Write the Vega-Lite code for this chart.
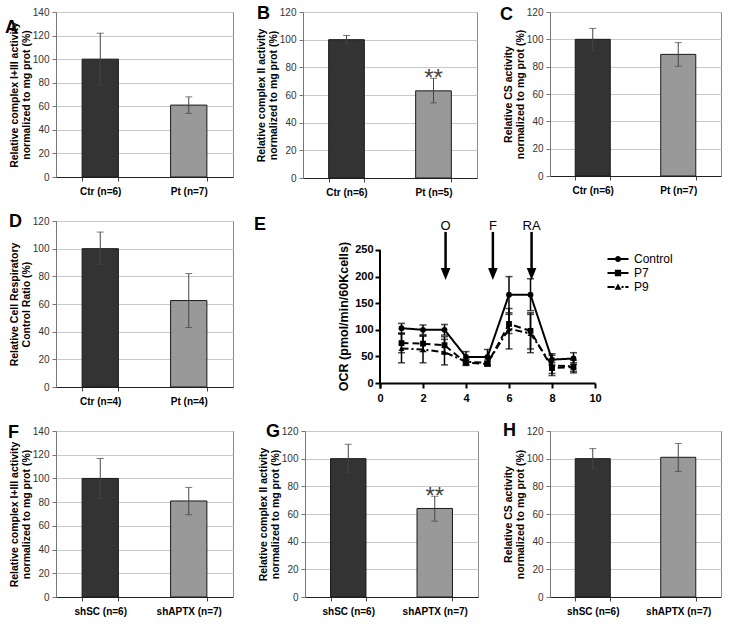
{
  "$schema": "https://vega.github.io/schema/vega-lite/v6.json",
  "background": "white",
  "padding": {"left": 4, "top": 4, "right": 5, "bottom": 3},
  "datasets": {
    "bars": [
      {"panel": "A", "group": "Ctr (n=6)", "cond": "control", "value": 100, "lo": 78, "hi": 122},
      {"panel": "A", "group": "Pt (n=7)", "cond": "case", "value": 61, "lo": 54, "hi": 68},
      {"panel": "B", "group": "Ctr (n=6)", "cond": "control", "value": 100, "lo": 96.8, "hi": 103},
      {"panel": "B", "group": "Pt (n=5)", "cond": "case", "value": 63, "lo": 54.3, "hi": 72, "sig": "**"},
      {"panel": "C", "group": "Ctr (n=6)", "cond": "control", "value": 100, "lo": 91.8, "hi": 108},
      {"panel": "C", "group": "Pt (n=7)", "cond": "case", "value": 89, "lo": 80.3, "hi": 97.6},
      {"panel": "D", "group": "Ctr (n=4)", "cond": "control", "value": 100, "lo": 88.5, "hi": 112},
      {"panel": "D", "group": "Pt (n=4)", "cond": "case", "value": 62.5, "lo": 43, "hi": 82},
      {"panel": "F", "group": "shSC (n=6)", "cond": "control", "value": 100, "lo": 83.2, "hi": 116.8},
      {"panel": "F", "group": "shAPTX (n=7)", "cond": "case", "value": 81, "lo": 69.4, "hi": 92.4},
      {"panel": "G", "group": "shSC (n=6)", "cond": "control", "value": 100, "lo": 89.6, "hi": 110.4},
      {"panel": "G", "group": "shAPTX (n=7)", "cond": "case", "value": 64, "lo": 54.8, "hi": 72.8, "sig": "**"},
      {"panel": "H", "group": "shSC (n=6)", "cond": "control", "value": 100, "lo": 92.5, "hi": 107.3},
      {"panel": "H", "group": "shAPTX (n=7)", "cond": "case", "value": 101, "lo": 90.8, "hi": 111}
    ],
    "ocr": [
      {"series": "Control", "t": 1, "v": 103, "lo": 94, "hi": 112},
      {"series": "Control", "t": 2, "v": 100, "lo": 91, "hi": 109},
      {"series": "Control", "t": 3, "v": 100, "lo": 90, "hi": 110},
      {"series": "Control", "t": 4, "v": 49, "lo": 39, "hi": 59},
      {"series": "Control", "t": 5, "v": 49, "lo": 35, "hi": 63},
      {"series": "Control", "t": 6, "v": 166, "lo": 132, "hi": 200},
      {"series": "Control", "t": 7, "v": 166, "lo": 136, "hi": 196},
      {"series": "Control", "t": 8, "v": 44, "lo": 33, "hi": 55},
      {"series": "Control", "t": 9, "v": 46, "lo": 35, "hi": 57},
      {"series": "P7", "t": 1, "v": 75, "lo": 57, "hi": 93},
      {"series": "P7", "t": 2, "v": 74, "lo": 59, "hi": 89},
      {"series": "P7", "t": 3, "v": 71, "lo": 55, "hi": 87},
      {"series": "P7", "t": 4, "v": 38, "lo": 33, "hi": 43},
      {"series": "P7", "t": 5, "v": 36, "lo": 32, "hi": 40},
      {"series": "P7", "t": 6, "v": 111, "lo": 93, "hi": 129},
      {"series": "P7", "t": 7, "v": 98, "lo": 64, "hi": 132},
      {"series": "P7", "t": 8, "v": 28, "lo": 18, "hi": 38},
      {"series": "P7", "t": 9, "v": 30, "lo": 22, "hi": 38},
      {"series": "P9", "t": 1, "v": 65, "lo": 38, "hi": 92},
      {"series": "P9", "t": 2, "v": 63, "lo": 38, "hi": 88},
      {"series": "P9", "t": 3, "v": 58, "lo": 34, "hi": 82},
      {"series": "P9", "t": 4, "v": 40, "lo": 35, "hi": 45},
      {"series": "P9", "t": 5, "v": 38, "lo": 33, "hi": 43},
      {"series": "P9", "t": 6, "v": 102, "lo": 64, "hi": 140},
      {"series": "P9", "t": 7, "v": 93, "lo": 57, "hi": 129},
      {"series": "P9", "t": 8, "v": 33, "lo": 14, "hi": 52},
      {"series": "P9", "t": 9, "v": 31, "lo": 19, "hi": 43}
    ],
    "injections": [
      {"label": "O", "t": 3.05},
      {"label": "F", "t": 5.25},
      {"label": "RA", "t": 7.05}
    ]
  },
  "spacing": 14,
  "vconcat": [
    {
      "spacing": 21,
      "hconcat": [
        {
          "data": {"name": "bars"},
          "transform": [{"filter": "datum.panel == 'A'"}],
          "width": 177, "height": 165,
          "title": {"text": "A", "anchor": "start", "frame": "group", "offset": 0, "dx": -51, "dy": 44, "baseline": "alphabetic", "fontSize": 18, "fontWeight": "bold", "color": "black"},
          "encoding": {"x": {"field": "group", "type": "nominal", "sort": null, "title": null, "scale": {"paddingInner": 0.59, "paddingOuter": 0.295}}},
          "layer": [
            {"mark": {"type": "bar", "stroke": "#1a1a1a", "strokeWidth": 1},
             "encoding": {
               "y": {"field": "value", "type": "quantitative", "scale": {"domain": [0, 140]}, "axis": {"values": [0, 20, 40, 60, 80, 100, 120, 140], "title": ["Relative complex I+III activity", "normalized to mg prot (%)"]}},
               "fill": {"field": "cond", "type": "nominal", "scale": {"domain": ["control", "case"], "range": ["#333333", "#999999"]}, "legend": null}}},
            {"mark": {"type": "rule", "color": "#444"}, "encoding": {"y": {"field": "lo", "type": "quantitative", "axis": {"values": [0, 20, 40, 60, 80, 100, 120, 140], "title": ["Relative complex I+III activity", "normalized to mg prot (%)"]}}, "y2": {"field": "hi"}}},
            {"mark": {"type": "tick", "color": "#444", "size": 7, "thickness": 1}, "encoding": {"y": {"field": "hi", "type": "quantitative", "axis": {"values": [0, 20, 40, 60, 80, 100, 120, 140], "title": ["Relative complex I+III activity", "normalized to mg prot (%)"]}}}},
            {"mark": {"type": "tick", "color": "#444", "size": 7, "thickness": 1}, "encoding": {"y": {"field": "lo", "type": "quantitative", "axis": {"values": [0, 20, 40, 60, 80, 100, 120, 140], "title": ["Relative complex I+III activity", "normalized to mg prot (%)"]}}}}
          ]
        },
        {
          "data": {"name": "bars"},
          "transform": [{"filter": "datum.panel == 'B'"}],
          "width": 174, "height": 166,
          "title": {"text": "B", "anchor": "start", "frame": "group", "offset": 0, "dx": -46, "dy": 30, "baseline": "alphabetic", "fontSize": 18, "fontWeight": "bold", "color": "black"},
          "encoding": {"x": {"field": "group", "type": "nominal", "sort": null, "title": null, "scale": {"paddingInner": 0.59, "paddingOuter": 0.295}}},
          "layer": [
            {"mark": {"type": "bar", "stroke": "#1a1a1a", "strokeWidth": 1},
             "encoding": {
               "y": {"field": "value", "type": "quantitative", "scale": {"domain": [0, 120]}, "axis": {"values": [0, 20, 40, 60, 80, 100, 120], "title": ["Relative complex II activity", "normalized to mg prot (%)"]}},
               "fill": {"field": "cond", "type": "nominal", "scale": {"domain": ["control", "case"], "range": ["#333333", "#999999"]}, "legend": null}}},
            {"mark": {"type": "rule", "color": "#444"}, "encoding": {"y": {"field": "lo", "type": "quantitative", "axis": {"values": [0, 20, 40, 60, 80, 100, 120], "title": ["Relative complex II activity", "normalized to mg prot (%)"]}}, "y2": {"field": "hi"}}},
            {"mark": {"type": "tick", "color": "#444", "size": 7, "thickness": 1}, "encoding": {"y": {"field": "hi", "type": "quantitative", "axis": {"values": [0, 20, 40, 60, 80, 100, 120], "title": ["Relative complex II activity", "normalized to mg prot (%)"]}}}},
            {"mark": {"type": "tick", "color": "#444", "size": 7, "thickness": 1}, "encoding": {"y": {"field": "lo", "type": "quantitative", "axis": {"values": [0, 20, 40, 60, 80, 100, 120], "title": ["Relative complex II activity", "normalized to mg prot (%)"]}}}},
            {"transform": [{"filter": "datum.sig"}], "mark": {"type": "text", "baseline": "alphabetic", "dy": 8, "fontSize": 24, "color": "#444"}, "encoding": {"y": {"field": "hi", "type": "quantitative", "axis": {"values": [0, 20, 40, 60, 80, 100, 120], "title": ["Relative complex II activity", "normalized to mg prot (%)"]}}, "text": {"field": "sig"}}}
          ]
        },
        {
          "data": {"name": "bars"},
          "transform": [{"filter": "datum.panel == 'C'"}],
          "width": 171, "height": 164,
          "title": {"text": "C", "anchor": "start", "frame": "group", "offset": 0, "dx": -50, "dy": 31, "baseline": "alphabetic", "fontSize": 18, "fontWeight": "bold", "color": "black"},
          "encoding": {"x": {"field": "group", "type": "nominal", "sort": null, "title": null, "scale": {"paddingInner": 0.59, "paddingOuter": 0.295}}},
          "layer": [
            {"mark": {"type": "bar", "stroke": "#1a1a1a", "strokeWidth": 1},
             "encoding": {
               "y": {"field": "value", "type": "quantitative", "scale": {"domain": [0, 120]}, "axis": {"values": [0, 20, 40, 60, 80, 100, 120], "title": ["Relative CS activity", "normalized to mg prot (%)"]}},
               "fill": {"field": "cond", "type": "nominal", "scale": {"domain": ["control", "case"], "range": ["#333333", "#999999"]}, "legend": null}}},
            {"mark": {"type": "rule", "color": "#444"}, "encoding": {"y": {"field": "lo", "type": "quantitative", "axis": {"values": [0, 20, 40, 60, 80, 100, 120], "title": ["Relative CS activity", "normalized to mg prot (%)"]}}, "y2": {"field": "hi"}}},
            {"mark": {"type": "tick", "color": "#444", "size": 7, "thickness": 1}, "encoding": {"y": {"field": "hi", "type": "quantitative", "axis": {"values": [0, 20, 40, 60, 80, 100, 120], "title": ["Relative CS activity", "normalized to mg prot (%)"]}}}},
            {"mark": {"type": "tick", "color": "#444", "size": 7, "thickness": 1}, "encoding": {"y": {"field": "lo", "type": "quantitative", "axis": {"values": [0, 20, 40, 60, 80, 100, 120], "title": ["Relative CS activity", "normalized to mg prot (%)"]}}}}
          ]
        }
      ]
    },
    {
      "spacing": 20,
      "hconcat": [
        {
          "data": {"name": "bars"},
          "transform": [{"filter": "datum.panel == 'D'"}],
          "width": 177, "height": 166,
          "title": {"text": "D", "anchor": "start", "frame": "group", "offset": 0, "dx": -47, "dy": 29, "baseline": "alphabetic", "fontSize": 18, "fontWeight": "bold", "color": "black"},
          "encoding": {"x": {"field": "group", "type": "nominal", "sort": null, "title": null, "scale": {"paddingInner": 0.59, "paddingOuter": 0.295}}},
          "layer": [
            {"mark": {"type": "bar", "stroke": "#1a1a1a", "strokeWidth": 1},
             "encoding": {
               "y": {"field": "value", "type": "quantitative", "scale": {"domain": [0, 120]}, "axis": {"values": [0, 20, 40, 60, 80, 100, 120], "title": ["Relative Cell Respiratory", "Control Ratio (%)"]}},
               "fill": {"field": "cond", "type": "nominal", "scale": {"domain": ["control", "case"], "range": ["#333333", "#999999"]}, "legend": null}}},
            {"mark": {"type": "rule", "color": "#444"}, "encoding": {"y": {"field": "lo", "type": "quantitative", "axis": {"values": [0, 20, 40, 60, 80, 100, 120], "title": ["Relative Cell Respiratory", "Control Ratio (%)"]}}, "y2": {"field": "hi"}}},
            {"mark": {"type": "tick", "color": "#444", "size": 7, "thickness": 1}, "encoding": {"y": {"field": "hi", "type": "quantitative", "axis": {"values": [0, 20, 40, 60, 80, 100, 120], "title": ["Relative Cell Respiratory", "Control Ratio (%)"]}}}},
            {"mark": {"type": "tick", "color": "#444", "size": 7, "thickness": 1}, "encoding": {"y": {"field": "lo", "type": "quantitative", "axis": {"values": [0, 20, 40, 60, 80, 100, 120], "title": ["Relative Cell Respiratory", "Control Ratio (%)"]}}}}
          ]
        },
        {
          "width": 215, "height": 162,
          "view": {"stroke": null},
          "title": {"text": "E", "anchor": "start", "frame": "group", "offset": 0, "dx": -126, "dy": 28, "baseline": "alphabetic", "fontSize": 18, "fontWeight": "bold", "color": "black"},
          "resolve": {"scale": {"shape": "independent"}, "legend": {"shape": "independent"}},
          "layer": [
            {"data": {"name": "ocr"},
             "mark": {"type": "rule", "color": "black", "strokeWidth": 1.5},
             "encoding": {
               "x": {"field": "t", "type": "quantitative", "scale": {"domain": [0, 10], "nice": false},
                     "axis": {"values": [0, 2, 4, 6, 8, 10], "title": null, "grid": false, "domainColor": "black", "domainWidth": 2, "ticks": true, "tickColor": "black", "tickWidth": 2, "tickSize": 5, "labelFontSize": 11, "labelFontWeight": "bold", "labelColor": "black", "labelPadding": 4, "labelFlush": false, "labelOverlap": false}},
               "y": {"field": "lo", "type": "quantitative", "scale": {"domain": [0, 304.5], "nice": false, "zero": true},
                     "axis": {"values": [0, 50, 100, 150, 200, 250], "title": "OCR (pmol/min/60Kcells)", "grid": false, "domain": false, "tickColor": "black", "tickWidth": 2, "tickSize": 5, "labelFontSize": 11, "labelFontWeight": "bold", "labelColor": "black", "labelPadding": 2, "labelOverlap": false, "titleFontSize": 12.5, "titlePadding": 4, "titleY": 95}},
               "y2": {"field": "hi"}}},
            {"data": {"values": [{}]},
             "mark": {"type": "rule", "color": "black", "strokeWidth": 2},
             "encoding": {"x": {"datum": 0, "type": "quantitative"}, "y": {"datum": 0, "type": "quantitative", "axis": {"values": [0, 50, 100, 150, 200, 250], "title": "OCR (pmol/min/60Kcells)"}}, "y2": {"datum": 250}}},
            {"data": {"name": "ocr"},
             "mark": {"type": "tick", "color": "black", "size": 7, "thickness": 1.5, "orient": "horizontal"},
             "encoding": {"x": {"field": "t", "type": "quantitative"}, "y": {"field": "hi", "type": "quantitative", "axis": {"values": [0, 50, 100, 150, 200, 250], "title": "OCR (pmol/min/60Kcells)"}}}},
            {"data": {"name": "ocr"},
             "mark": {"type": "tick", "color": "black", "size": 7, "thickness": 1.5, "orient": "horizontal"},
             "encoding": {"x": {"field": "t", "type": "quantitative"}, "y": {"field": "lo", "type": "quantitative", "axis": {"values": [0, 50, 100, 150, 200, 250], "title": "OCR (pmol/min/60Kcells)"}}}},
            {"data": {"name": "ocr"},
             "mark": {"type": "line", "color": "black", "strokeWidth": 2},
             "encoding": {
               "x": {"field": "t", "type": "quantitative"},
               "y": {"field": "v", "type": "quantitative", "axis": {"values": [0, 50, 100, 150, 200, 250], "title": "OCR (pmol/min/60Kcells)"}},
               "detail": {"field": "series"},
               "strokeDash": {"field": "series", "type": "nominal", "scale": {"domain": ["Control", "P7", "P9"], "range": [[1, 0], [7, 4], [7, 3, 2, 3]]}, "legend": null}}},
            {"data": {"name": "ocr"},
             "mark": {"type": "point", "filled": true, "color": "black", "opacity": 1, "size": 34},
             "encoding": {
               "x": {"field": "t", "type": "quantitative"},
               "y": {"field": "v", "type": "quantitative", "axis": {"values": [0, 50, 100, 150, 200, 250], "title": "OCR (pmol/min/60Kcells)"}},
               "shape": {"field": "series", "type": "nominal", "scale": {"domain": ["Control", "P7", "P9"], "range": ["circle", "square", "triangle-up"]}, "legend": null}}},
            {"data": {"name": "ocr"},
             "mark": {"type": "point", "filled": true, "color": "black", "opacity": 0},
             "encoding": {
               "x": {"field": "t", "type": "quantitative"},
               "y": {"field": "v", "type": "quantitative", "axis": {"values": [0, 50, 100, 150, 200, 250], "title": "OCR (pmol/min/60Kcells)"}},
               "shape": {"field": "series", "type": "nominal",
                         "scale": {"domain": ["Control", "P7", "P9"], "range": [
                           "M-1.5,-0.14H1.5V0.14H-1.5Z M0.43,0A0.43,0.43,0,1,1,-0.43,0A0.43,0.43,0,1,1,0.43,0Z",
                           "M-1.5,-0.14H1.5V0.14H-1.5Z M-0.45,-0.45H0.45V0.45H-0.45Z",
                           "M-1.5,-0.14H-0.5V0.14H-1.5Z M0.5,-0.14H0.8V0.14H0.5Z M1.05,-0.14H1.5V0.14H1.05Z M0,-0.5L0.5,0.4H-0.5Z"]},
                         "legend": {"title": null, "orient": "none", "legendX": 231, "legendY": 31, "padding": 0, "symbolSize": 196, "symbolOpacity": 1, "symbolFillColor": "black", "symbolStrokeWidth": 0, "labelFontSize": 12, "labelColor": "black", "labelOffset": 9, "rowPadding": 1}}}},
            {"data": {"name": "injections"},
             "mark": {"type": "rule", "color": "black", "strokeWidth": 2.5},
             "encoding": {"x": {"field": "t", "type": "quantitative"}, "y": {"datum": 284, "type": "quantitative", "axis": {"values": [0, 50, 100, 150, 200, 250], "title": "OCR (pmol/min/60Kcells)"}}, "y2": {"datum": 212}}},
            {"data": {"name": "injections"},
             "mark": {"type": "point", "filled": true, "color": "black", "opacity": 1, "size": 144, "shape": "M-0.8,-1L0.8,-1L0,1Z"},
             "encoding": {"x": {"field": "t", "type": "quantitative"}, "y": {"datum": 205, "type": "quantitative", "axis": {"values": [0, 50, 100, 150, 200, 250], "title": "OCR (pmol/min/60Kcells)"}}}},
            {"data": {"name": "injections"},
             "mark": {"type": "text", "baseline": "alphabetic", "fontSize": 13, "color": "black"},
             "encoding": {"x": {"field": "t", "type": "quantitative"}, "y": {"datum": 288, "type": "quantitative", "axis": {"values": [0, 50, 100, 150, 200, 250], "title": "OCR (pmol/min/60Kcells)"}}, "text": {"field": "label"}}}
          ]
        }
      ]
    },
    {
      "spacing": 23,
      "hconcat": [
        {
          "data": {"name": "bars"},
          "transform": [{"filter": "datum.panel == 'F'"}],
          "width": 177, "height": 166,
          "title": {"text": "F", "anchor": "start", "frame": "group", "offset": 0, "dx": -48, "dy": 30, "baseline": "alphabetic", "fontSize": 18, "fontWeight": "bold", "color": "black"},
          "encoding": {"x": {"field": "group", "type": "nominal", "sort": null, "title": null, "scale": {"paddingInner": 0.59, "paddingOuter": 0.295}}},
          "layer": [
            {"mark": {"type": "bar", "stroke": "#1a1a1a", "strokeWidth": 1},
             "encoding": {
               "y": {"field": "value", "type": "quantitative", "scale": {"domain": [0, 140]}, "axis": {"values": [0, 20, 40, 60, 80, 100, 120, 140], "title": ["Relative complex I+III activity", "normalized to mg prot (%)"]}},
               "fill": {"field": "cond", "type": "nominal", "scale": {"domain": ["control", "case"], "range": ["#333333", "#999999"]}, "legend": null}}},
            {"mark": {"type": "rule", "color": "#444"}, "encoding": {"y": {"field": "lo", "type": "quantitative", "axis": {"values": [0, 20, 40, 60, 80, 100, 120, 140], "title": ["Relative complex I+III activity", "normalized to mg prot (%)"]}}, "y2": {"field": "hi"}}},
            {"mark": {"type": "tick", "color": "#444", "size": 7, "thickness": 1}, "encoding": {"y": {"field": "hi", "type": "quantitative", "axis": {"values": [0, 20, 40, 60, 80, 100, 120, 140], "title": ["Relative complex I+III activity", "normalized to mg prot (%)"]}}}},
            {"mark": {"type": "tick", "color": "#444", "size": 7, "thickness": 1}, "encoding": {"y": {"field": "lo", "type": "quantitative", "axis": {"values": [0, 20, 40, 60, 80, 100, 120, 140], "title": ["Relative complex I+III activity", "normalized to mg prot (%)"]}}}}
          ]
        },
        {
          "data": {"name": "bars"},
          "transform": [{"filter": "datum.panel == 'G'"}],
          "width": 173, "height": 166,
          "title": {"text": "G", "anchor": "start", "frame": "group", "offset": 0, "dx": -39, "dy": 29, "baseline": "alphabetic", "fontSize": 18, "fontWeight": "bold", "color": "black"},
          "encoding": {"x": {"field": "group", "type": "nominal", "sort": null, "title": null, "scale": {"paddingInner": 0.59, "paddingOuter": 0.295}}},
          "layer": [
            {"mark": {"type": "bar", "stroke": "#1a1a1a", "strokeWidth": 1},
             "encoding": {
               "y": {"field": "value", "type": "quantitative", "scale": {"domain": [0, 120]}, "axis": {"values": [0, 20, 40, 60, 80, 100, 120], "title": ["Relative complex II activity", "normalized to mg prot (%)"]}},
               "fill": {"field": "cond", "type": "nominal", "scale": {"domain": ["control", "case"], "range": ["#333333", "#999999"]}, "legend": null}}},
            {"mark": {"type": "rule", "color": "#444"}, "encoding": {"y": {"field": "lo", "type": "quantitative", "axis": {"values": [0, 20, 40, 60, 80, 100, 120], "title": ["Relative complex II activity", "normalized to mg prot (%)"]}}, "y2": {"field": "hi"}}},
            {"mark": {"type": "tick", "color": "#444", "size": 7, "thickness": 1}, "encoding": {"y": {"field": "hi", "type": "quantitative", "axis": {"values": [0, 20, 40, 60, 80, 100, 120], "title": ["Relative complex II activity", "normalized to mg prot (%)"]}}}},
            {"mark": {"type": "tick", "color": "#444", "size": 7, "thickness": 1}, "encoding": {"y": {"field": "lo", "type": "quantitative", "axis": {"values": [0, 20, 40, 60, 80, 100, 120], "title": ["Relative complex II activity", "normalized to mg prot (%)"]}}}},
            {"transform": [{"filter": "datum.sig"}], "mark": {"type": "text", "baseline": "alphabetic", "dy": 8, "fontSize": 24, "color": "#444"}, "encoding": {"y": {"field": "hi", "type": "quantitative", "axis": {"values": [0, 20, 40, 60, 80, 100, 120], "title": ["Relative complex II activity", "normalized to mg prot (%)"]}}, "text": {"field": "sig"}}}
          ]
        },
        {
          "data": {"name": "bars"},
          "transform": [{"filter": "datum.panel == 'H'"}],
          "width": 171, "height": 166,
          "title": {"text": "H", "anchor": "start", "frame": "group", "offset": 0, "dx": -47, "dy": 28, "baseline": "alphabetic", "fontSize": 18, "fontWeight": "bold", "color": "black"},
          "encoding": {"x": {"field": "group", "type": "nominal", "sort": null, "title": null, "scale": {"paddingInner": 0.59, "paddingOuter": 0.295}}},
          "layer": [
            {"mark": {"type": "bar", "stroke": "#1a1a1a", "strokeWidth": 1},
             "encoding": {
               "y": {"field": "value", "type": "quantitative", "scale": {"domain": [0, 120]}, "axis": {"values": [0, 20, 40, 60, 80, 100, 120], "title": ["Relative CS activity", "normalized to mg prot (%)"]}},
               "fill": {"field": "cond", "type": "nominal", "scale": {"domain": ["control", "case"], "range": ["#333333", "#999999"]}, "legend": null}}},
            {"mark": {"type": "rule", "color": "#444"}, "encoding": {"y": {"field": "lo", "type": "quantitative", "axis": {"values": [0, 20, 40, 60, 80, 100, 120], "title": ["Relative CS activity", "normalized to mg prot (%)"]}}, "y2": {"field": "hi"}}},
            {"mark": {"type": "tick", "color": "#444", "size": 7, "thickness": 1}, "encoding": {"y": {"field": "hi", "type": "quantitative", "axis": {"values": [0, 20, 40, 60, 80, 100, 120], "title": ["Relative CS activity", "normalized to mg prot (%)"]}}}},
            {"mark": {"type": "tick", "color": "#444", "size": 7, "thickness": 1}, "encoding": {"y": {"field": "lo", "type": "quantitative", "axis": {"values": [0, 20, 40, 60, 80, 100, 120], "title": ["Relative CS activity", "normalized to mg prot (%)"]}}}}
          ]
        }
      ]
    }
  ],
  "config": {
    "font": "Liberation Sans",
    "view": {"stroke": "#8c8c8c"},
    "axisY": {"gridColor": "#c8c8c8", "domainColor": "#777", "tickColor": "#777", "tickSize": 4, "labelFontSize": 10, "labelColor": "#333", "labelPadding": 3, "labelOverlap": false, "titleFontSize": 10.5, "titleFontWeight": "bold", "titleColor": "black", "titlePadding": 1, "titleLineHeight": 12},
    "axisX": {"domainColor": "#222", "ticks": true, "tickBand": "extent", "tickSize": 4, "tickColor": "#444", "labelFontSize": 10, "labelFontWeight": "bold", "labelColor": "black", "labelPadding": 5, "labelAngle": 0}
  }
}
